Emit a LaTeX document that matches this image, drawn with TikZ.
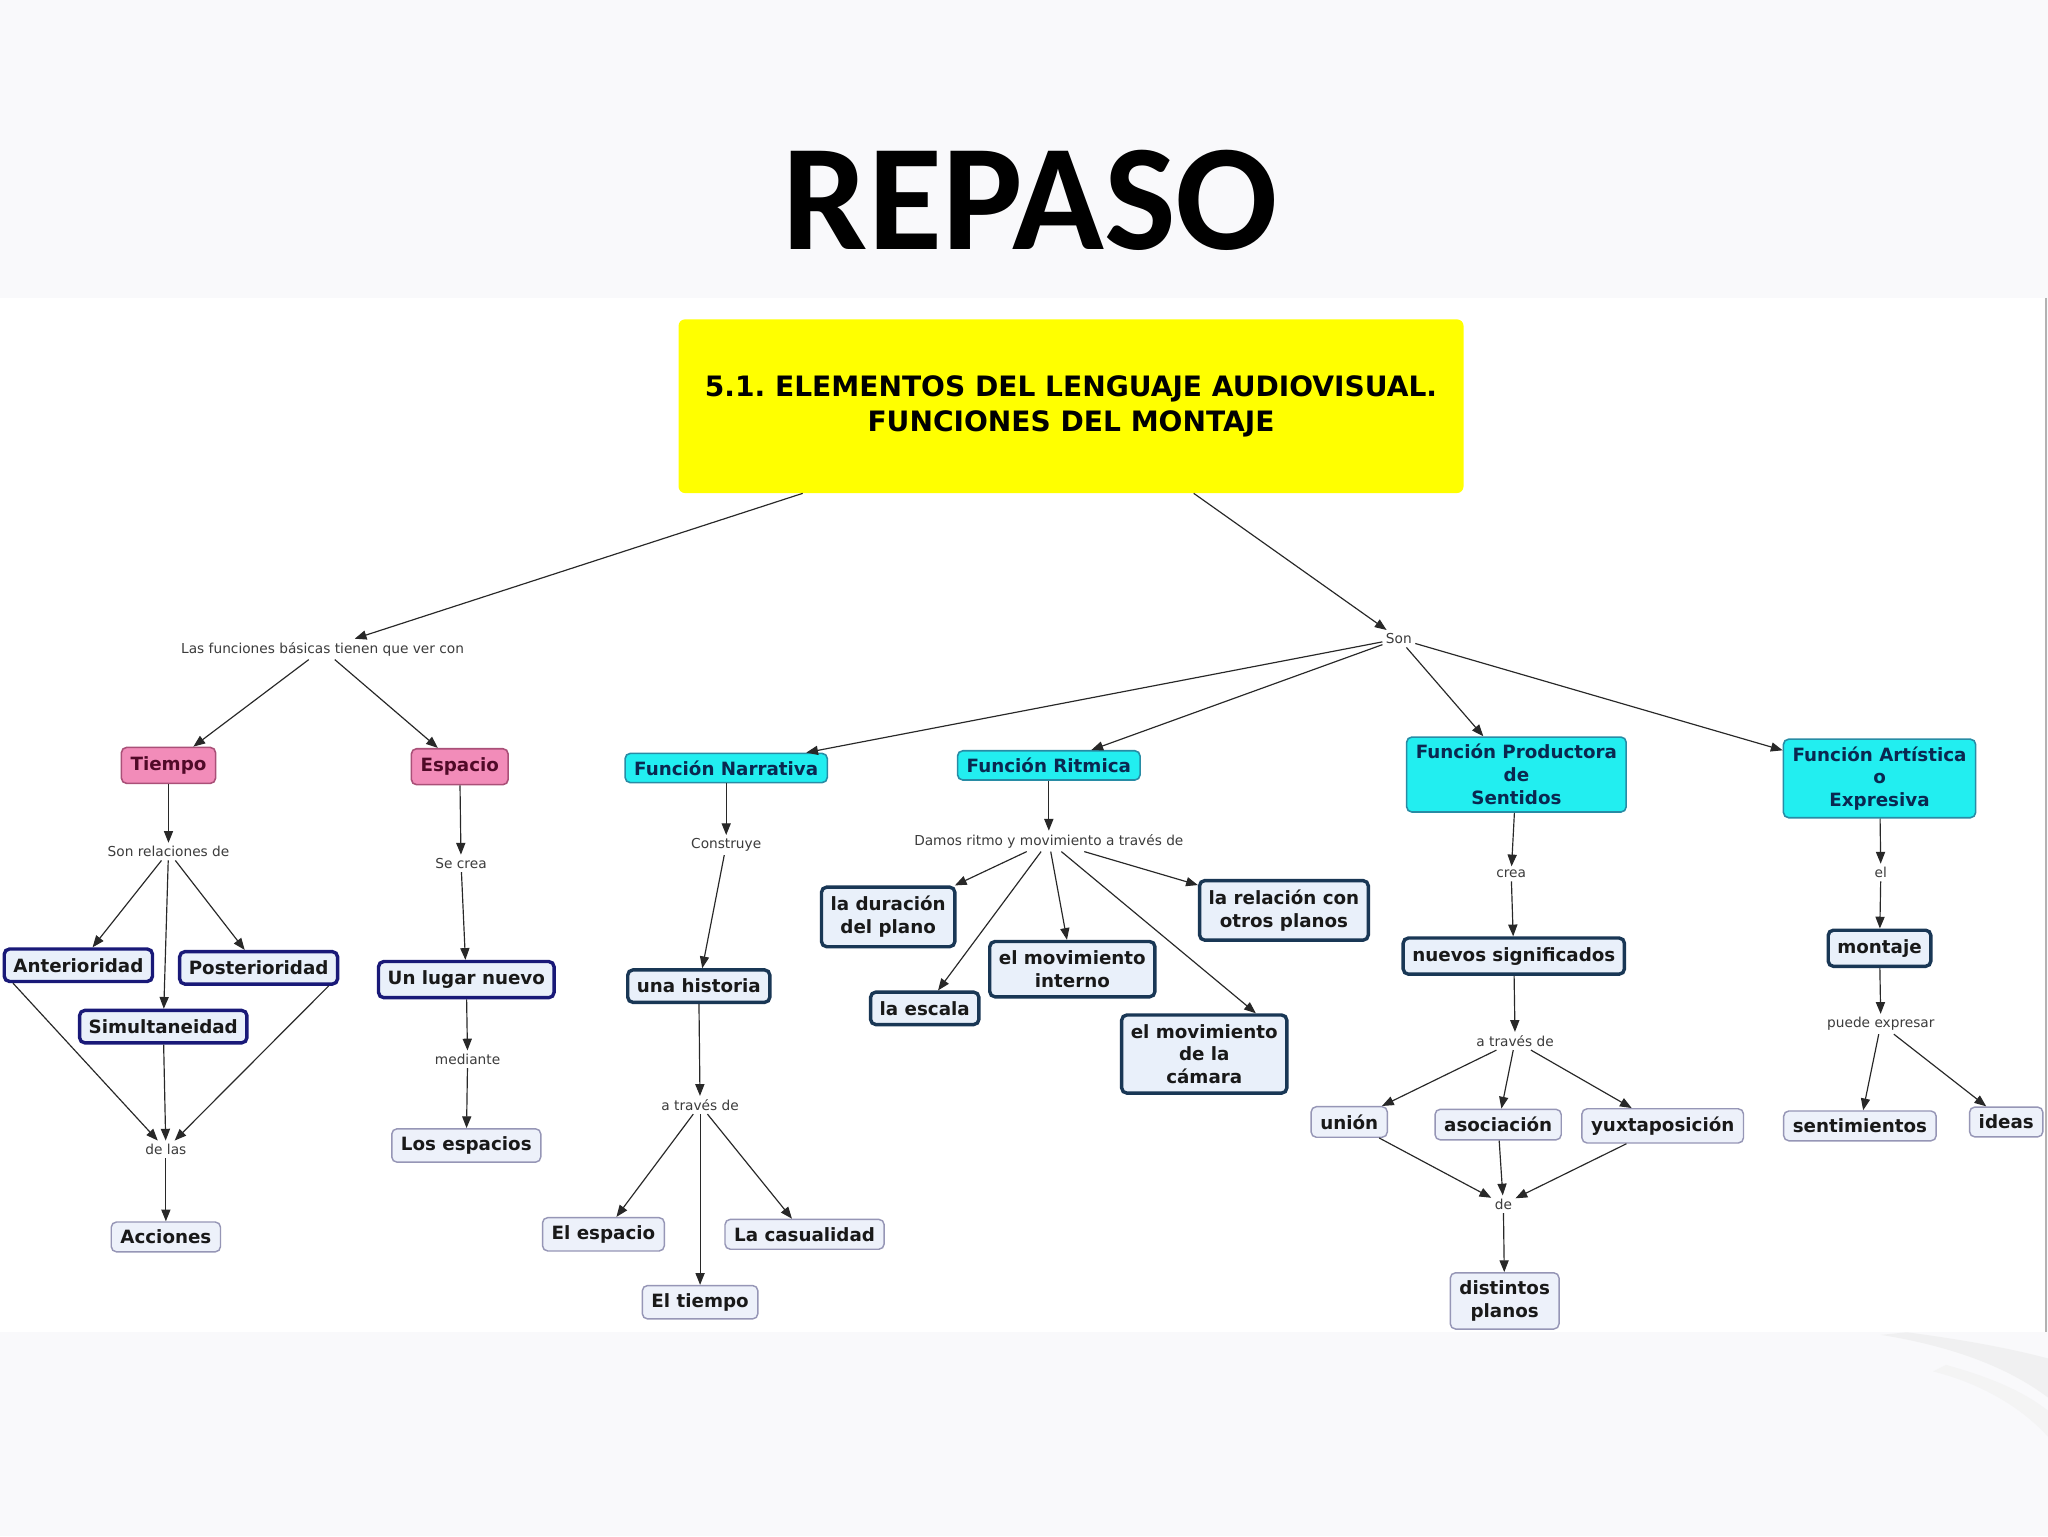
\documentclass[tikz,border=0pt]{standalone}
\usepackage{fontspec}
\setmainfont{DejaVu Sans}
\newfontfamily\titlefont{Carlito}
\usetikzlibrary{arrows.meta}
\frenchspacing
\definecolor{bgF}{RGB}{249,249,251}
\definecolor{yelF}{RGB}{255,255,0}
\definecolor{cyanF}{RGB}{34,238,240}
\definecolor{cyanD}{RGB}{40,140,165}
\definecolor{cyanT}{RGB}{10,40,80}
\definecolor{pinkF}{RGB}{242,140,185}
\definecolor{pinkD}{RGB}{170,80,120}
\definecolor{pinkT}{RGB}{80,10,40}
\definecolor{navyD}{RGB}{25,25,120}
\definecolor{tealD}{RGB}{25,55,85}
\definecolor{lightF}{RGB}{233,240,250}
\definecolor{leafD}{RGB}{150,150,182}
\definecolor{leafF}{RGB}{237,241,250}
\definecolor{lblT}{RGB}{60,60,60}
\definecolor{lineC}{RGB}{40,40,40}
\tikzset{
  base/.style={rounded corners=4pt, font=\bfseries\fontsize{14}{17.5}\selectfont, align=center, inner xsep=7pt, inner ysep=7pt},
  cyanbox/.style={base, fill=cyanF, draw=cyanD, line width=1.2pt, text=cyanT, inner ysep=5.5pt},
  pinkbox/.style={base, fill=pinkF, draw=pinkD, line width=1.2pt, text=pinkT},
  navybox/.style={base, fill=lightF, draw=navyD, line width=2.6pt, text=black!90},
  tealbox/.style={base, fill=lightF, draw=tealD, line width=2.6pt, text=black!90},
  leafbox/.style={base, fill=leafF, draw=leafD, line width=1.1pt, text=black!90, inner ysep=6pt},
  lbl/.style={font=\fontsize{10.5}{12}\selectfont, text=lblT, inner sep=2.5pt},
  arr/.style={-{Triangle[length=9pt,width=7pt]}, line width=0.9pt, draw=lineC},
  ln/.style={line width=0.9pt, draw=lineC}
}
\begin{document}
\begin{tikzpicture}[x=1pt,y=-1pt]
\useasboundingbox (0,0) rectangle (1568,1176);
\fill[bgF] (0,0) rectangle (1568,1176);
% faint swoosh bottom right
\fill[gray!14, opacity=0.7] (1440,1022) .. controls (1490,1030) and (1535,1045) .. (1568,1070) -- (1568,1040) .. controls (1530,1030) and (1490,1024) .. (1460,1020) -- cycle;
\fill[gray!10, opacity=0.7] (1480,1050) .. controls (1520,1060) and (1550,1080) .. (1568,1100) -- (1568,1080) .. controls (1545,1062) and (1515,1052) .. (1490,1045) -- cycle;
\fill[white] (0,228) rectangle (1566,1020);
\draw[gray!60, line width=1.5pt] (1566.5,228) -- (1566.5,1020);

% title
\node (repaso) at (789,153) {\titlefont\bfseries\fontsize{116}{120}\selectfont REPASO};

% root
\node[fill=yelF, rounded corners=5pt, minimum width=601pt, minimum height=133pt, align=center,
      font=\bfseries\fontsize{21.5}{27}\selectfont] (root) at (820,311)
      {5.1. ELEMENTOS DEL LENGUAJE AUDIOVISUAL.\\FUNCIONES DEL MONTAJE};

% link labels
\node[lbl] (lasf) at (247,497) {Las funciones básicas tienen que ver con};
\node[lbl] (son) at (1071,489) {Son};
\node[lbl] (sonrel) at (129,652) {Son relaciones de};
\node[lbl] (secrea) at (353,661) {Se crea};
\node[lbl] (delas) at (127,880) {de las};
\node[lbl] (mediante) at (358,811) {mediante};
\node[lbl] (construye) at (556,647) {Construye};
\node[lbl] (atraves1) at (536,846) {a través de};
\node[lbl] (damos) at (803,644) {Damos ritmo y movimiento a través de};
\node[lbl] (crea) at (1157,669) {crea};
\node[lbl] (atraves2) at (1160,797) {a través de};
\node[lbl] (de) at (1151,922) {de};
\node[lbl] (el) at (1440,668) {el};
\node[lbl] (puede) at (1440,784) {puede expresar};

% concepts
\node[pinkbox] (tiempo) at (129,586) {Tiempo};
\node[pinkbox] (espacio) at (352,587) {Espacio};
\node[navybox] (ant) at (60,739) {Anterioridad};
\node[navybox] (post) at (198,741) {Posterioridad};
\node[navybox] (simul) at (125,786) {Simultaneidad};
\node[navybox] (lugar) at (357,750) {Un lugar nuevo};
\node[leafbox] (acciones) at (127,947) {Acciones};
\node[leafbox] (losesp) at (357,877) {Los espacios};

\node[cyanbox] (narr) at (556,588) {Función Narrativa};
\node[cyanbox] (ritm) at (803,586) {Función Ritmica};
\node[cyanbox] (prod) at (1161,593) {Función Productora\\de\\Sentidos};
\node[cyanbox] (arts) at (1439,596) {Función Artística\\o\\Expresiva};

\node[tealbox] (historia) at (535,755) {una historia};
\node[leafbox] (elesp) at (462,945) {El espacio};
\node[leafbox] (eltiempo) at (536,997) {El tiempo};
\node[leafbox] (casual) at (616,945) {La casualidad};

\node[tealbox] (duracion) at (680,702) {la duración\\del plano};
\node[tealbox] (escala) at (708,772) {la escala};
\node[tealbox] (interno) at (821,742) {el movimiento\\interno};
\node[tealbox] (camara) at (922,807) {el movimiento\\de la\\cámara};
\node[tealbox] (relacion) at (983,697) {la relación con\\otros planos};

\node[tealbox] (nuevos) at (1159,732) {nuevos significados};
\node[leafbox] (union) at (1033,859) {unión};
\node[leafbox] (asoc) at (1147,861) {asociación};
\node[leafbox] (yuxt) at (1273,862) {yuxtaposición};
\node[leafbox] (distintos) at (1152,996) {distintos\\planos};

\node[tealbox] (montaje) at (1439,726) {montaje};
\node[leafbox] (sentim) at (1424,862) {sentimientos};
\node[leafbox] (ideas) at (1536,859) {ideas};

% connectors
\draw[arr] (root) -- (lasf);
\draw[arr] (root) -- (son);
\draw[arr] (lasf) -- (tiempo);
\draw[arr] (lasf) -- (espacio);
\draw[arr] (son) -- (narr);
\draw[arr] (son) -- (ritm);
\draw[arr] (son) -- (prod);
\draw[arr] (son) -- (arts);

\draw[arr] (tiempo) -- (sonrel);
\draw[arr] (sonrel) -- (ant);
\draw[arr] (sonrel) -- (simul);
\draw[arr] (sonrel) -- (post);
\draw[arr] ([xshift=8pt]ant.south west) -- (delas);
\draw[arr] (simul) -- (delas);
\draw[arr] ([xshift=-8pt]post.south east) -- (delas);
\draw[arr] (delas) -- (acciones);

\draw[arr] (espacio) -- (secrea);
\draw[arr] (secrea) -- (lugar);
\draw[arr] (lugar) -- (mediante);
\draw[arr] (mediante) -- (losesp);

\draw[arr] (narr) -- (construye);
\draw[arr] (construye) -- (historia);
\draw[arr] (historia) -- (atraves1);
\draw[arr] (atraves1) -- (elesp);
\draw[arr] (atraves1) -- (eltiempo);
\draw[arr] (atraves1) -- (casual);

\draw[arr] (ritm) -- (damos);
\draw[arr] (damos) -- (duracion);
\draw[arr] (damos) -- (escala);
\draw[arr] (damos) -- (interno);
\draw[arr] (damos) -- ([xshift=-25pt]camara.north east);
\draw[arr] (damos) -- (relacion);

\draw[arr] (prod) -- (crea);
\draw[arr] (crea) -- (nuevos);
\draw[arr] (nuevos) -- (atraves2);
\draw[arr] (atraves2) -- (union);
\draw[arr] (atraves2) -- (asoc);
\draw[arr] (atraves2) -- (yuxt);
\draw[arr] (union) -- (de);
\draw[arr] (asoc) -- (de);
\draw[arr] (yuxt) -- (de);
\draw[arr] (de) -- (distintos);

\draw[arr] (arts) -- (el);
\draw[arr] (el) -- (montaje);
\draw[arr] (montaje) -- (puede);
\draw[arr] (puede) -- (sentim);
\draw[arr] (puede) -- (ideas);
\end{tikzpicture}
\end{document}
